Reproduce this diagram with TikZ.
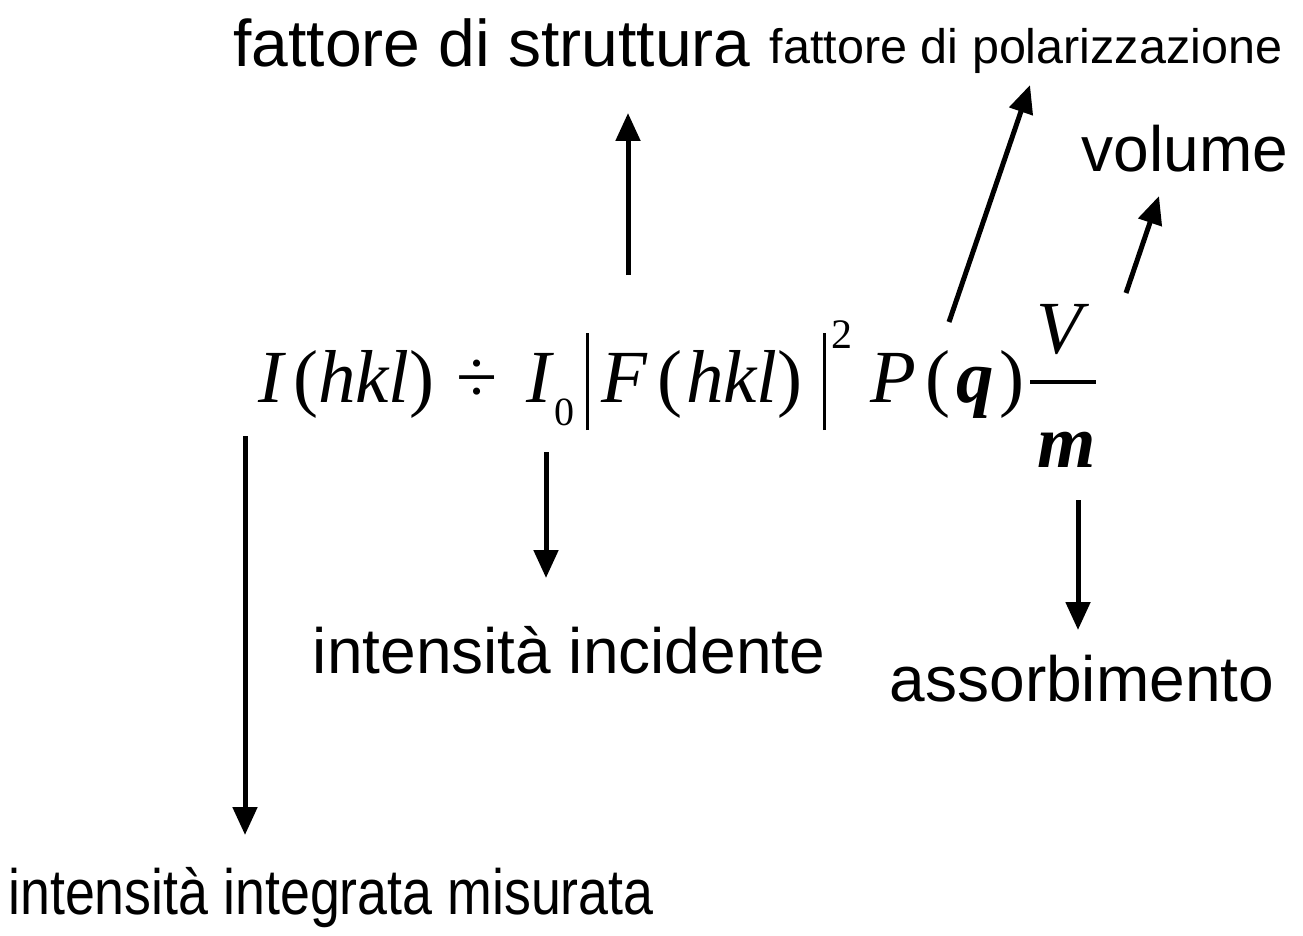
\documentclass[tikz,border=0pt]{standalone}
\usepackage{fontspec}
\setmainfont{Liberation Serif}
\newfontfamily\labelfont{Liberation Sans}
\usetikzlibrary{arrows.meta}
\tikzset{
  lbl/.style={inner sep=0pt, anchor=base, font=\labelfont\fontsize{64}{70}\selectfont},
  biglbl/.style={inner sep=0pt, anchor=base, font=\labelfont\fontsize{66}{72}\selectfont},
  smalllbl/.style={inner sep=0pt, anchor=base, font=\labelfont\fontsize{48.5}{52}\selectfont},
  arr/.style={line width=5pt, -{Triangle[length=28pt,width=24pt]}},
  formula/.style={inner sep=0pt, anchor=base west, font=\fontsize{75}{80}\selectfont}
}
\newcommand{\absbar}{\rule[-28pt]{3pt}{97pt}}
\begin{document}
\begin{tikzpicture}[x=1pt,y=-1pt]
\useasboundingbox (0,0) rectangle (1303,936);
\fill[white] (0,0) rectangle (1303,936);
% labels
\node[biglbl] (fs) at (492,67) {fattore di struttura};
\node[smalllbl] (fp) at (1026,64) {fattore di polarizzazione};
\node[lbl] (vol) at (1185,172) {volume};
\node[lbl] (inc) at (569,673) {intensità incidente};
\node[lbl] (ass) at (1082,701) {assorbimento};
\node[lbl, xscale=0.84, transform shape] (mis) at (331,914) {intensità integrata misurata};
% formula
\node[formula] (eq) at (258,402) {%
\textit{I}\hspace{7pt}(\textit{hkl})\hspace{22pt}÷\hspace{29pt}\textit{I}\raisebox{-23pt}{\fontsize{40}{40}\selectfont 0}\hspace{11pt}\absbar\hspace{13pt}\textit{F}\hspace{9pt}(\hspace{4pt}\textit{hkl})\hspace{20pt}\absbar\hspace{6pt}\raisebox{54pt}{\fontsize{42}{42}\selectfont 2}\hspace{18pt}\textit{P}\hspace{9pt}(\hspace{6pt}\textbf{\textit{q}}\hspace{5pt})\hspace{6pt}%
\rlap{\makebox[66pt]{\raisebox{49pt}{\textit{V}}}}%
\rlap{\makebox[66pt]{\hspace{8pt}\raisebox{-65pt}{\textbf{\textit{m}}}}}%
\rule[18pt]{66pt}{4pt}};
% arrow end points
\coordinate (a1s) at (628,275); \coordinate (a1e) at (628,113);
\coordinate (a2s) at (949,322); \coordinate (a2e) at (1030,85);
\coordinate (a3s) at (1126,293); \coordinate (a3e) at (1159,196);
\coordinate (a4s) at (245,436); \coordinate (a4e) at (245,835);
\coordinate (a5s) at (546,452); \coordinate (a5e) at (546,578);
\coordinate (a6s) at (1078,500); \coordinate (a6e) at (1078,630);
\draw[arr] (a1s) -- (a1e);
\draw[arr] (a2s) -- (a2e);
\draw[arr] (a3s) -- (a3e);
\draw[arr] (a4s) -- (a4e);
\draw[arr] (a5s) -- (a5e);
\draw[arr] (a6s) -- (a6e);
\end{tikzpicture}
\end{document}
